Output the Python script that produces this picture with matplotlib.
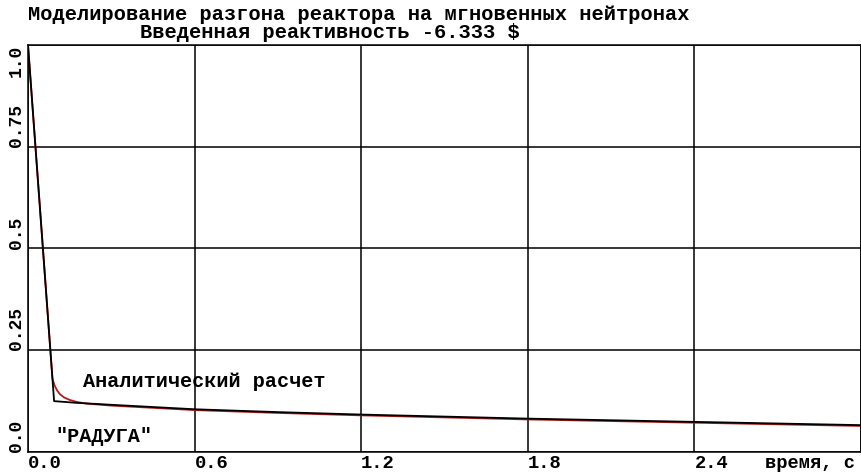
import matplotlib
matplotlib.use("Agg")
import matplotlib.pyplot as plt

# "РАДУГА" numerical result
t_raduga = [0.0, 0.094, 0.17, 0.3, 0.6, 0.9, 1.2, 1.5, 1.8, 2.1, 2.4, 2.7, 3.0]
p_raduga = [1.0, 0.125, 0.121, 0.116, 0.105, 0.098, 0.092, 0.087, 0.082, 0.078, 0.074, 0.070, 0.066]

# analytical solution
t_anal = [0.0, 0.088, 0.096, 0.105, 0.115, 0.13, 0.15, 0.175, 0.21, 0.3, 0.6, 0.9, 1.2, 1.5, 1.8, 2.1, 2.4, 2.7, 3.0]
p_anal = [1.0, 0.18, 0.163, 0.151, 0.142, 0.134, 0.128, 0.123, 0.119, 0.114, 0.103, 0.096, 0.090, 0.085,
          0.080, 0.076, 0.072, 0.068, 0.064]

xticks = [0.0, 0.6, 1.2, 1.8, 2.4]
xlabels = ["0.0", "0.6", "1.2", "1.8", "2.4"]
yticks = [0.0, 0.25, 0.5, 0.75, 1.0]
ylabels = ["0.0", "0.25", "0.5", "0.75", "1.0"]

W, H = 861, 473
fnt = "Liberation Mono"

fig = plt.figure(figsize=(W / 100, H / 100), dpi=100)
ax = fig.add_axes([28 / W, (H - 452) / H, (W - 28) / W, (452 - 45) / H])

ax.plot(t_anal, p_anal, color="#b01c1c", lw=1.3)
ax.plot(t_raduga, p_raduga, color="black", lw=1.3)

ax.set_xlim(0, 3.0)
ax.set_ylim(0, 1.0)
ax.set_xticks(xticks + [3.0])
ax.set_xticklabels(xlabels + [""], fontfamily=fnt, fontweight="bold", fontsize=13.5, ha="left")
ax.set_yticks(yticks)
ax.set_yticklabels(ylabels, fontfamily=fnt, fontweight="bold", fontsize=13, rotation=90)
for lab in ax.get_yticklabels():
    lab.set_va("bottom")
ax.get_yticklabels()[-1].set_va("top")
ax.tick_params(length=0, pad=2)
ax.grid(True, color="black", lw=1.1)
for s in ax.spines.values():
    s.set_color("black")
    s.set_linewidth(1.1)

ax.text(0.198, 0.172, "Аналитический расчет", fontfamily=fnt, fontweight="bold",
        fontsize=14.5, va="center", ha="left")
ax.text(0.097, 0.037, "\"РАДУГА\"", fontfamily=fnt, fontweight="bold",
        fontsize=14.5, va="center", ha="left")

fig.text(28 / W, 1 - 14 / H, "Моделирование разгона реактора на мгновенных нейтронах",
         fontfamily=fnt, fontweight="bold", fontsize=14.7, va="center", ha="left")
fig.text(140 / W, 1 - 33 / H, "Введенная реактивность -6.333 $",
         fontfamily=fnt, fontweight="bold", fontsize=14.7, va="center", ha="left")
fig.text(855 / W, 1 - 463 / H, "время, с", fontfamily=fnt, fontweight="bold",
         fontsize=13.5, va="center", ha="right")

fig.savefig("out.png", dpi=100)
